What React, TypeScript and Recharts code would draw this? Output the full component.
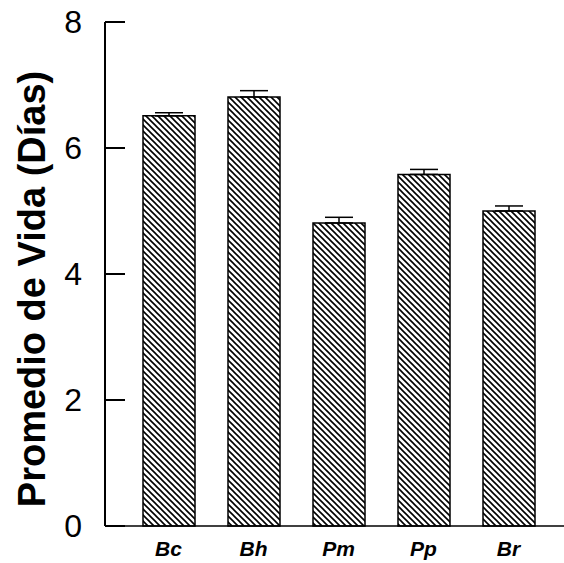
import { Bar, BarChart, ErrorBar, XAxis, YAxis } from 'recharts';

const species = ['Bc', 'Bh', 'Pm', 'Pp', 'Br'];
const meanLife = [6.51, 6.81, 4.81, 5.58, 5.0];
const stdErr = [0.05, 0.1, 0.09, 0.08, 0.08];
const yTicks = [0, 2, 4, 6, 8];

// only the upper whisker is visible in the original
const rows = species.map((name, i) => ({
  name,
  value: meanLife[i],
  err: [0, stdErr[i]],
}));

const font = '"Liberation Sans", Arial, sans-serif';

function YTitle() {
  return (
    <text
      x={45}
      y={289}
      transform="rotate(-90, 45, 289)"
      textAnchor="middle"
      fontFamily={font}
      fontWeight="bold"
      fontSize={38}
      fill="#000"
    >
      Promedio de Vida (Días)
    </text>
  );
}

export default function App() {
  return (
    <div style={{ position: 'absolute', left: 0, top: 0, background: '#fff' }}>
      <BarChart
        width={564}
        height={563}
        data={rows}
        margin={{ top: 22, right: 0, left: 0, bottom: 0 }}
        barSize={52}
      >
        <defs>
          <pattern id="hatch" width="6" height="6" patternUnits="userSpaceOnUse">
            <rect width="6" height="6" fill="#fff" />
            <path d="M0,0 L6,6 M-1,5 L1,7 M5,-1 L7,1" stroke="#000" strokeWidth={1.6} />
          </pattern>
        </defs>
        <XAxis
          dataKey="name"
          padding={{ left: 21, right: 13 }}
          height={37}
          tickLine={false}
          tickMargin={9}
          axisLine={{ stroke: '#000', strokeWidth: 1.5 }}
          tick={{ fill: '#000', fontSize: 21, fontWeight: 'bold', fontStyle: 'italic', fontFamily: font }}
        />
        <YAxis
          width={105}
          domain={[0, 8]}
          ticks={yTicks}
          tickSize={-20}
          tickMargin={43}
          axisLine={{ stroke: '#000', strokeWidth: 2 }}
          tickLine={{ stroke: '#000', strokeWidth: 2 }}
          tick={{ fill: '#000', fontSize: 32, fontFamily: font }}
        />
        <Bar dataKey="value" fill="url(#hatch)" stroke="#000" strokeWidth={1.5} isAnimationActive={false}>
          <ErrorBar dataKey="err" width={14} stroke="#000" strokeWidth={1.5} direction="y" />
        </Bar>
        <YTitle />
      </BarChart>
    </div>
  );
}
